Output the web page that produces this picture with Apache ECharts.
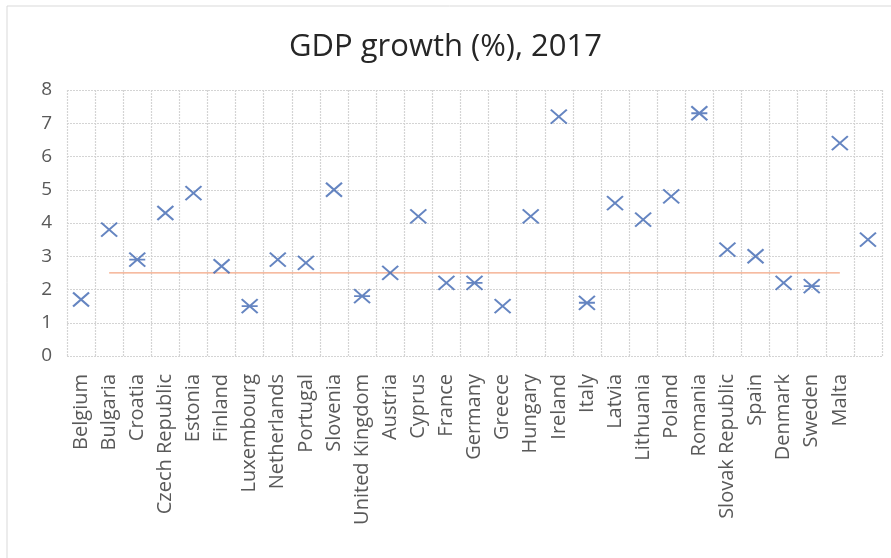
<!DOCTYPE html>
<html>
<head>
<meta charset="utf-8">
<script src="https://cdn.jsdelivr.net/npm/echarts@6/dist/echarts.min.js"></script>
<style>
  html, body { margin: 0; padding: 0; background: #fff; }
  #chart { width: 891px; height: 558px; }
</style>
</head>
<body>
<div id="chart"></div>
<script>
// countries (the last slot has no label in the original)
var countries = ["Belgium", "Bulgaria", "Croatia", "Czech Republic", "Estonia", "Finland",
  "Luxembourg", "Netherlands", "Portugal", "Slovenia", "United Kingdom", "Austria",
  "Cyprus", "France", "Germany", "Greece", "Hungary", "Ireland", "Italy", "Latvia",
  "Lithuania", "Poland", "Romania", "Slovak Republic", "Spain", "Denmark", "Sweden",
  "Malta", ""];
var growth = [1.7, 3.8, 2.9, 4.3, 4.9, 2.7, 1.5, 2.9, 2.8, 5.0, 1.8, 2.5, 4.2, 2.2,
  2.2, 1.5, 4.2, 7.2, 1.6, 4.6, 4.1, 4.8, 7.3, 3.2, 3.0, 2.2, 2.1, 6.4, 3.5];
// average line, drawn from Bulgaria to Malta
var average = [null, 2.5, 2.5, 2.5, 2.5, 2.5, 2.5, 2.5, 2.5, 2.5, 2.5, 2.5, 2.5, 2.5,
  2.5, 2.5, 2.5, 2.5, 2.5, 2.5, 2.5, 2.5, 2.5, 2.5, 2.5, 2.5, 2.5, 2.5, null];
var yTicks = [0, 8, 1];

var chart = echarts.init(document.getElementById("chart"));
var gridLine = { lineStyle: { color: "#d4d4d4", width: 1.2, type: [2, 1] } };
var cross = "path://M0,0L10,10M10,0L0,10";
var crossBar = "path://M0,0L10,10M10,0L0,10M0,5L10,5";

chart.setOption({
  animation: false,
  textStyle: { fontFamily: "Open Sans" },
  graphic: [{
    type: "rect",
    shape: { x: 7, y: 6, width: 900, height: 600 },
    style: { fill: "none", stroke: "#d9d9d9", lineWidth: 1 },
    silent: true
  }],
  title: {
    text: "GDP growth (%), 2017",
    left: "center",
    top: 27,
    textStyle: { fontSize: 31, fontWeight: "normal", color: "#262626", fontFamily: "Open Sans" }
  },
  grid: { left: 67, right: 9, top: 90, bottom: 202 },
  xAxis: {
    type: "category",
    data: countries,
    boundaryGap: true,
    axisTick: { show: false },
    axisLine: { show: false },
    splitLine: Object.assign({ show: true, interval: 0 }, gridLine),
    axisLabel: { interval: 0, rotate: 90, margin: 18, color: "#595959", fontSize: 20 }
  },
  yAxis: {
    type: "value",
    min: yTicks[0],
    max: yTicks[1],
    interval: yTicks[2],
    axisLine: { show: false },
    axisTick: { show: false },
    splitLine: gridLine,
    axisLabel: { color: "#595959", fontSize: 19, margin: 15 }
  },
  series: [
    {
      name: "GDP growth",
      type: "scatter",
      data: growth,
      symbol: function (val, params) {
        return params.dataIndex % 4 === 2 ? crossBar : cross;
      },
      symbolSize: [16, 14],
      itemStyle: { color: "rgba(0,0,0,0)", borderColor: "#3f67b1", borderWidth: 2 },
      z: 3
    },
    {
      name: "Average",
      type: "line",
      data: average,
      showSymbol: false,
      symbol: "none",
      lineStyle: { color: "#f4a582", width: 1.2 },
      itemStyle: { color: "#ed7d31" },
      z: 2
    }
  ]
});
</script>
</body>
</html>
